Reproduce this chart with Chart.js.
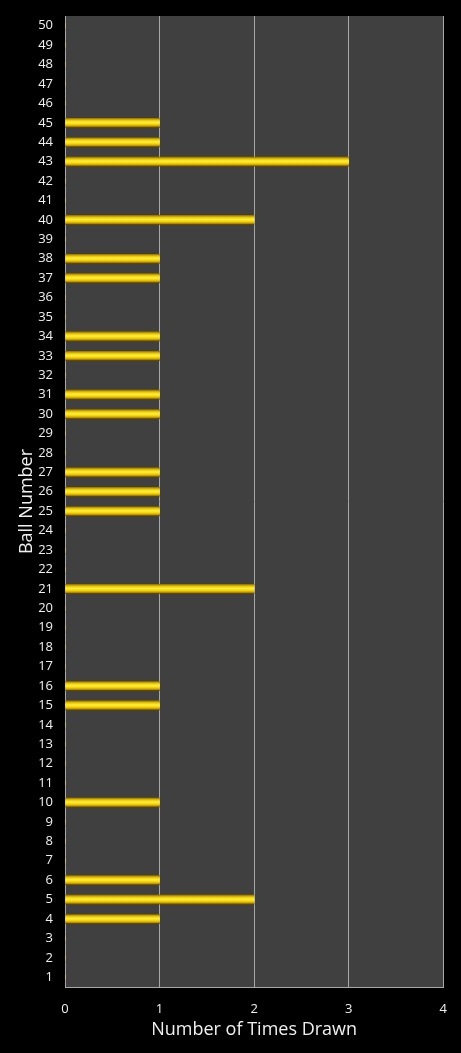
<!DOCTYPE html>
<html>
<head>
<meta charset="utf-8">
<script src="https://cdn.jsdelivr.net/npm/chart.js@4.4.1/dist/chart.umd.min.js"></script>
<style>
  html, body { margin: 0; padding: 0; background: #000; }
  #wrap { width: 461px; height: 1053px; position: relative; }
</style>
</head>
<body>
<div id="wrap"><canvas id="myChart"></canvas></div>
<script>
// ball numbers 1..50
const balls = ['1','2','3','4','5','6','7','8','9','10','11','12','13','14','15','16','17','18','19','20',
  '21','22','23','24','25','26','27','28','29','30','31','32','33','34','35','36','37','38','39','40',
  '41','42','43','44','45','46','47','48','49','50'];
// times drawn, same order as balls
const timesDrawn = [0,0,0,1,2,1,0,0,0,1, 0,0,0,0,1,1,0,0,0,0,
  2,0,0,0,1,1,1,0,0,1, 1,0,1,1,0,0,1,1,0,2, 0,0,3,1,1,0,0,0,0,0];
const xTicks = [0, 1, 2, 3, 4];

// 플롯 영역 배경
const plotBg = {
  id: 'plotBg',
  beforeDraw(chart) {
    const { ctx, chartArea: a } = chart;
    ctx.save();
    ctx.fillStyle = '#404040';
    ctx.fillRect(a.left, a.top, a.right - a.left, a.bottom - a.top);
    ctx.restore();
  }
};

// 막대 그라데이션 (위아래 어둡고 가운데 밝게)
function barFill(context) {
  const chart = context.chart;
  const y = chart.scales.y;
  if (!y || context.dataIndex === undefined) return '#f5d800';
  const c = y.getPixelForValue(context.dataIndex);
  if (!isFinite(c)) return '#f5d800';
  const g = chart.ctx.createLinearGradient(0, c - 4.5, 0, c + 4.5);
  g.addColorStop(0, '#9a7600');
  g.addColorStop(0.2, '#e8c400');
  g.addColorStop(0.45, '#fff040');
  g.addColorStop(0.7, '#f2d000');
  g.addColorStop(0.88, '#c09400');
  g.addColorStop(1, '#6a4c00');
  return g;
}

const font = "'Open Sans', 'DejaVu Sans', sans-serif";

new Chart(document.getElementById('myChart'), {
  type: 'bar',
  data: {
    labels: balls,
    datasets: [{
      label: 'Times Drawn',
      data: timesDrawn,
      backgroundColor: barFill,
      borderWidth: 0,
      barThickness: 9
    }]
  },
  options: {
    indexAxis: 'y',
    responsive: true,
    maintainAspectRatio: false,
    animation: false,
    layout: { padding: { top: 16, right: 16, left: 0, bottom: 0 } },
    plugins: {
      legend: { display: false },
      tooltip: { enabled: false }
    },
    scales: {
      x: {
        min: 0,
        max: 4,
        afterBuildTicks(scale) { scale.ticks = xTicks.map(v => ({ value: v })); },
        afterFit(scale) { scale.height = 66; },
        grid: { color: '#a8a8a8', lineWidth: 1, drawTicks: false },
        border: { color: '#a8a8a8', width: 1 },
        ticks: { color: '#f0f0f0', font: { family: font, size: 13 }, padding: 14 },
        title: {
          display: true,
          text: 'Number of Times Drawn',
          color: '#f0f0f0',
          font: { family: font, size: 18 },
          padding: { top: 0, bottom: 12 }
        }
      },
      y: {
        reverse: true,
        afterFit(scale) {
          scale.width = 65;
          scale.paddingTop = 0;
          scale.paddingBottom = 0;
        },
        grid: { display: false, drawTicks: false },
        border: { color: '#a8a8a8', width: 1 },
        ticks: { color: '#f0f0f0', font: { family: font, size: 13 }, padding: 12, autoSkip: false },
        title: {
          display: true,
          text: 'Ball Number',
          color: '#f0f0f0',
          font: { family: font, size: 18 },
          padding: { top: 16, bottom: 0 }
        }
      }
    }
  },
  plugins: [plotBg]
});
</script>
</body>
</html>
